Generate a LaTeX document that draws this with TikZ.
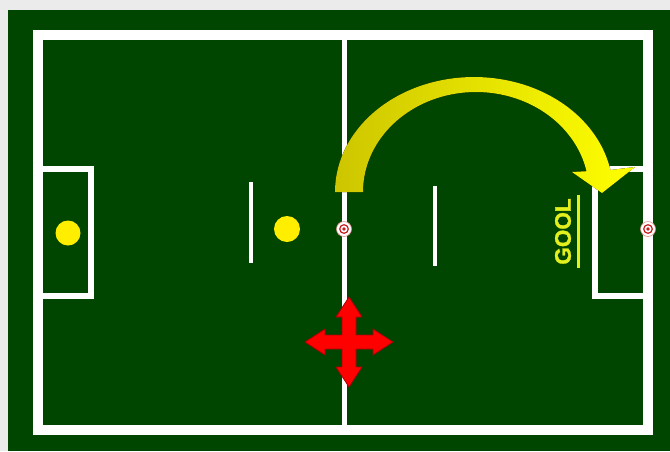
\documentclass[tikz,border=0pt]{standalone}
\usepackage{fontspec}
\setmainfont{Liberation Sans}
\newfontfamily\goolfont[FakeBold=1.2]{Liberation Sans Bold}
\usetikzlibrary{calc}
\definecolor{pitch}{RGB}{0,70,0}
\definecolor{framegrey}{RGB}{235,235,235}
\definecolor{ballyellow}{RGB}{255,238,0}
\definecolor{goolyellow}{RGB}{228,240,30}
\definecolor{arrowdark}{RGB}{205,198,0}
\definecolor{arrowmid}{RGB}{238,232,0}
\definecolor{arrowlight}{RGB}{255,255,0}
\definecolor{crossred}{RGB}{255,0,0}
\definecolor{crossedge}{RGB}{170,0,0}
\definecolor{ballred}{RGB}{200,30,30}
\tikzset{
  outerline/.style={draw=white, line width=10pt},
  midline/.style={draw=white, line width=5pt},
  boxline/.style={draw=white, line width=6.5pt},
  shortline/.style={draw=white, line width=4pt},
  yball/.style={fill=ballyellow},
  soccer/.pic={
    \fill[white] (0,0) circle[radius=7.5pt];
    \draw[ballred!50, line width=0.6pt] (0,0) circle[radius=7.5pt];
    \draw[ballred, line width=1.2pt] (0,0) circle[radius=4.3pt];
    \fill[ballred] (0,0) circle[radius=1.8pt];
  }
}
\begin{document}
\begin{tikzpicture}[x=1pt,y=-1pt]
\useasboundingbox (0,0) rectangle (670,451);
\fill[framegrey] (0,0) rectangle (670,451);
\fill[pitch] (8,10) rectangle (670,451);
% lines
\draw[outerline] (38,35) rectangle (648,430);
\draw[midline] (344,35) -- (344,430);
\draw[boxline] (38,169) -- (91,169) -- (91,296) -- (38,296);
\draw[boxline] (648,169) -- (595,169) -- (595,296) -- (648,296);
\draw[shortline] (250.5,182) -- (250.5,263);
\draw[shortline] (435,186) -- (435,266);
% balls
\fill[yball] (68,233) circle[radius=12.5pt];
\fill[yball] (287,229) circle[radius=13pt];
\pic (b1) at (344,229) {soccer};
\pic (b2) at (648,229) {soccer};
% curved arrow
\fill[left color=arrowdark, middle color=arrowmid, right color=arrowlight]
  (335,192) -- plot[domain=180:11, samples=90] ({474+139*cos(\x)},{192-115*sin(\x)})
  -- (635,167) -- (602,193) -- (572,172)
  -- plot[domain=12:180, samples=90] ({476+113*cos(\x)},{192-100*sin(\x)}) -- cycle;
% GOOL
\node[rotate=90, text=goolyellow, font=\goolfont\fontsize{22.5}{22.5}\selectfont, inner sep=0pt] (gool) at (563,231.5) {GOOL};
\draw[goolyellow, line width=2.8pt] ($(gool.south west)+(7,3)$) -- ($(gool.south east)+(7,-3)$);
% red cross arrow
\fill[crossred, draw=crossedge, line width=0.8pt, shift={(349,342)}]
  (0,-45) -- (13,-25) -- (7,-25) -- (7,-7) -- (24,-7) -- (24,-13) -- (44,0)
  -- (24,13) -- (24,7) -- (7,7) -- (7,25) -- (13,25) -- (0,45) -- (-13,25)
  -- (-7,25) -- (-7,7) -- (-24,7) -- (-24,13) -- (-44,0) -- (-24,-13)
  -- (-24,-7) -- (-7,-7) -- (-7,-25) -- (-13,-25) -- cycle;
\end{tikzpicture}
\end{document}
